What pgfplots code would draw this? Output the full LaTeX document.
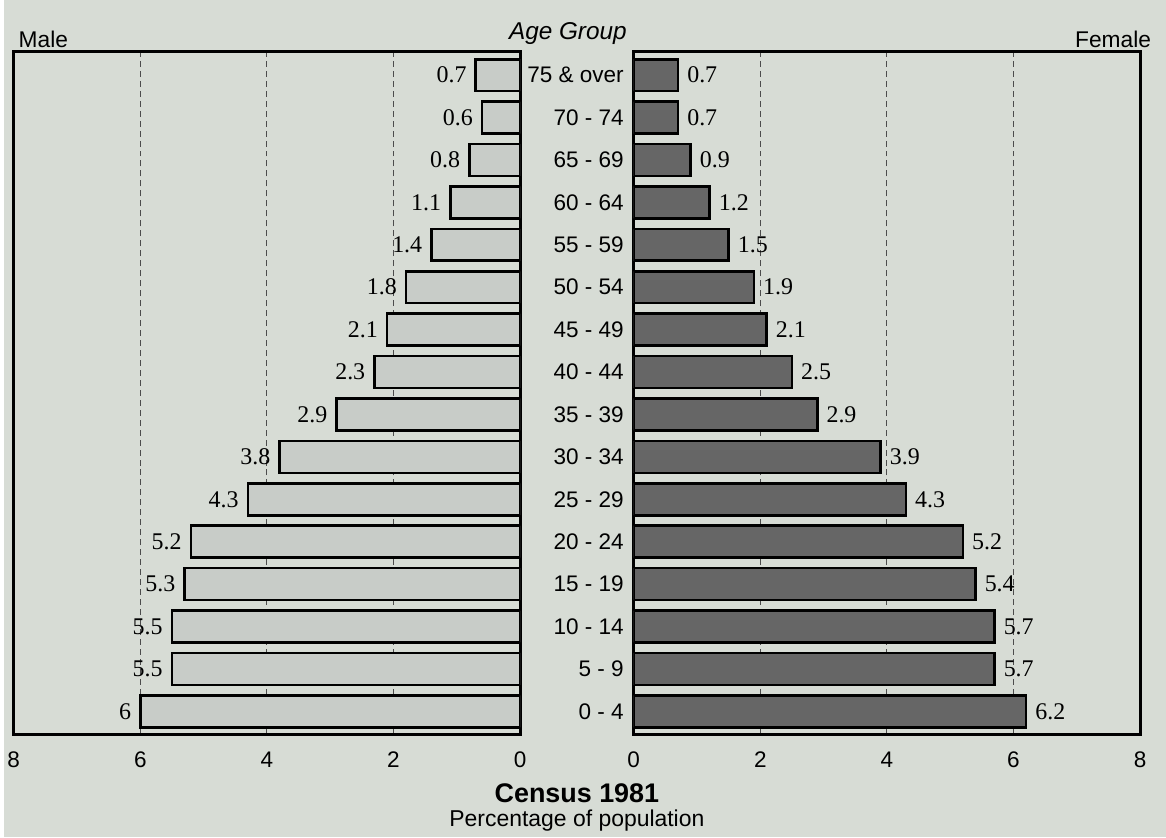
\documentclass[border=0pt]{standalone}
\usepackage{pgfplots}
\pgfplotsset{compat=1.18}
\usepackage{fontspec}
\setmainfont{Liberation Sans}
\newfontfamily\valfont{Liberation Serif}

\definecolor{paper}{RGB}{215,220,213}
\definecolor{malebar}{RGB}{200,204,200}
\definecolor{femalebar}{RGB}{102,102,102}

% one row per age group, 0 = "0 - 4" at the bottom
\pgfplotstableread{
y male female
0  6.0 6.2
1  5.5 5.7
2  5.5 5.7
3  5.3 5.4
4  5.2 5.2
5  4.3 4.3
6  3.8 3.9
7  2.9 2.9
8  2.3 2.5
9  2.1 2.1
10 1.8 1.9
11 1.4 1.5
12 1.1 1.2
13 0.8 0.9
14 0.6 0.7
15 0.7 0.7
}\census

\pgfplotsset{pyr/.style={
  scale only axis, width=254pt, height=342.5pt,
  xbar, bar width=16pt,
  xmin=0, xmax=8, ymin=-0.55, ymax=15.55,
  xtick={0,2,4,6,8}, ytick={0,...,15},
  major tick length=0pt,
  xmajorgrids, grid style={densely dashed, gray!60!black, line width=0.4pt},
  axis line style={line width=1.5pt, black},
  /pgf/number format/assume math mode=true,
  tick label style={font=\fontsize{11.3}{13}\selectfont},
  xticklabel style={yshift=-5pt},
  nodes near coords,
  every node near coord/.append style={font=\valfont\fontsize{12}{13}\selectfont, black, inner sep=4pt},
  anchor=south west,
}}

\begin{document}
\begin{tikzpicture}
\fill[paper] (0,0) rectangle (583pt,-420pt);

\begin{axis}[pyr, at={(5pt,-368.5pt)}, x dir=reverse, yticklabels={},
  every node near coord/.append style={anchor=east}]
\addplot[draw=black, line width=1.3pt, fill=malebar] table[x=male, y=y] {\census};
\end{axis}

\begin{axis}[pyr, at={(316pt,-368.5pt)},
  yticklabels={0 - 4, 5 - 9, 10 - 14, 15 - 19, 20 - 24, 25 - 29, 30 - 34, 35 - 39,
    40 - 44, 45 - 49, 50 - 54, 55 - 59, 60 - 64, 65 - 69, 70 - 74, 75 \& over},
  yticklabel style={anchor=east, xshift=-1.5pt},
  every node near coord/.append style={anchor=west}]
\addplot[draw=black, line width=1.3pt, fill=femalebar] table[x=female, y=y] {\census};
\end{axis}

\node[anchor=west, font=\fontsize{11.4}{13}\selectfont] at (4pt,-20pt) {Male};
\node[anchor=east, font=\fontsize{11.4}{13}\selectfont] at (579pt,-20pt) {Female};
\node[anchor=east, font=\itshape\fontsize{12.2}{13}\selectfont] at (316pt,-17pt) {Age Group};
\node[font=\bfseries\fontsize{13.5}{15}\selectfont] at (287.5pt,-398pt) {Census 1981};
\node[font=\fontsize{11.5}{13}\selectfont] at (287.5pt,-411.5pt) {Percentage of population};
\end{tikzpicture}
\end{document}
